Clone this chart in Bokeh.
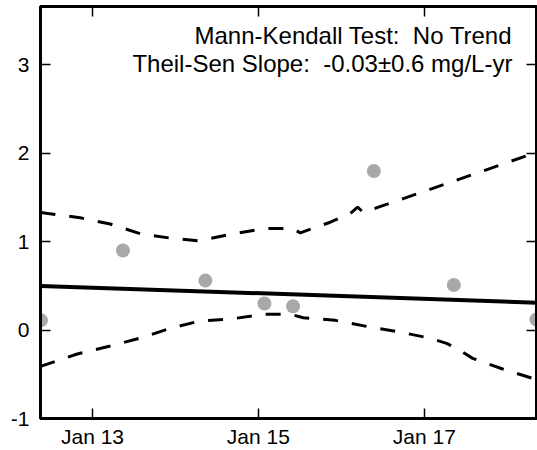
import pandas as pd
from bokeh.plotting import figure
from bokeh.models import (DatetimeAxis, LinearAxis, FixedTicker, DatetimeTickFormatter,
                          Range1d, Label, ColumnDataSource, CustomLabelingPolicy)
from bokeh.embed import file_html
from bokeh.resources import INLINE

# ---- data ----
obs_dates = ["2012-05-19", "2013-05-15", "2014-05-13", "2015-01-28",
             "2015-06-03", "2016-05-24", "2017-05-11", "2018-05-10"]
obs_values = [0.11, 0.90, 0.56, 0.30, 0.27, 1.80, 0.51, 0.12]

trend_dates = ["2012-05-17", "2018-05-10"]
trend_values = [0.50, 0.31]

upper_dates = ["2012-05-17", "2012-11-07", "2013-03-20", "2013-07-31", "2013-12-10",
               "2014-04-13", "2014-09-14", "2015-02-01", "2015-05-31", "2015-07-05",
               "2015-11-14", "2016-02-11", "2016-03-13", "2016-04-08", "2016-06-13",
               "2018-05-10"]
upper_values = [1.33, 1.27, 1.20, 1.09, 1.04,
                1.01, 1.09, 1.15, 1.15, 1.10,
                1.22, 1.32, 1.39, 1.33, 1.39,
                2.01]

lower_dates = ["2012-05-17", "2012-10-26", "2013-03-20", "2013-07-31", "2013-12-10",
               "2014-04-13", "2014-09-14", "2015-02-01", "2015-05-22", "2015-07-18",
               "2015-12-06", "2016-04-26", "2016-09-10", "2017-01-24", "2017-04-09",
               "2017-06-01", "2017-08-02", "2017-12-12", "2018-05-10"]
lower_values = [-0.41, -0.27, -0.18, -0.09, 0.02,
                0.10, 0.13, 0.18, 0.18, 0.14,
                0.11, 0.04, -0.02, -0.09, -0.15,
                -0.22, -0.32, -0.44, -0.56]

x_tick_dates = ["2013-01-01", "2015-01-01", "2017-01-01"]
y_ticks = [-1, 0, 1, 2, 3]
y_tick_labels = ["-1", "0", "1", "2", "3"]
x_limits = ["2012-05-17", "2018-05-10"]
y_limits = [-1, 3.66]
annotation_lines = ["Mann-Kendall Test:\u00a0 No Trend",
                    "Theil-Sen Slope:\u00a0 -0.03\u00b10.6 mg/L-yr"]
annotation_anchor_date = "2018-01-24"
annotation_y = [3.33, 3.02]

FONT = "Liberation Sans"


def ms(d):
    return pd.Timestamp(d).value / 1e6


def to_dt(lst):
    return pd.to_datetime(lst)


p = figure(width=537, height=450, x_axis_type="datetime",
           output_backend="svg", toolbar_location=None,
           x_range=Range1d(ms(x_limits[0]), ms(x_limits[1])),
           y_range=Range1d(y_limits[0], y_limits[1]),
           min_border_left=40, min_border_right=1, min_border_top=6,
           min_border_bottom=0)
p.grid.visible = False
p.outline_line_color = "black"
p.outline_line_width = 3
p.background_fill_color = "white"
p.border_fill_color = "white"

x_ticker = FixedTicker(ticks=[ms(d) for d in x_tick_dates])
y_ticker = FixedTicker(ticks=y_ticks)
fmt = DatetimeTickFormatter(years="%b %y", months="%b %y", days="%b %y",
                            hours="%b %y", minutes="%b %y", seconds="%b %y",
                            milliseconds="%b %y", microseconds="%b %y",
                            hourmin="%b %y", minsec="%b %y")

hide_all = CustomLabelingPolicy(code="""
    const all = [...indices]
    for (const i of all) indices.unset(i)
    return indices
""")


def style_axis(ax, show_labels):
    ax.axis_line_width = 3
    ax.axis_line_color = "black"
    ax.major_tick_in = 10
    ax.major_tick_out = 0
    ax.major_tick_line_width = 1.5
    ax.major_tick_line_color = "black"
    ax.minor_tick_line_color = None
    ax.major_label_text_font = FONT
    ax.major_label_text_color = "black"
    if show_labels:
        ax.major_label_text_font_size = "21px"
    else:
        ax.major_label_text_font_size = "0px"
        ax.major_label_policy = hide_all
        ax.major_label_standoff = 0


xb = p.xaxis[0]
xb.ticker = x_ticker
xb.formatter = fmt
style_axis(xb, True)
xb.major_label_standoff = 6
xb.major_label_text_line_height = 0.9

yl = p.yaxis[0]
yl.ticker = y_ticker
yl.major_label_overrides = {t: s for t, s in zip(y_ticks, y_tick_labels)}
style_axis(yl, True)
yl.major_label_standoff = 11

xt = DatetimeAxis(ticker=x_ticker, formatter=fmt)
style_axis(xt, False)
p.add_layout(xt, "above")

yr = LinearAxis(ticker=y_ticker)
style_axis(yr, False)
p.add_layout(yr, "right")

# confidence bands
p.line(to_dt(upper_dates), upper_values, line_color="black", line_width=3,
       line_dash="15 14")
p.line(to_dt(lower_dates), lower_values, line_color="black", line_width=3,
       line_dash="15 14")
# Theil-Sen trend
p.line(to_dt(trend_dates), trend_values, line_color="black", line_width=4)
# observations
src = ColumnDataSource(dict(x=to_dt(obs_dates), y=obs_values))
p.scatter("x", "y", source=src, size=14, fill_color="#a8a8a8",
          line_color=None)

for txt, yv in zip(annotation_lines, annotation_y):
    p.add_layout(Label(x=ms(annotation_anchor_date), y=yv, text=txt,
                       text_align="right", text_baseline="middle",
                       text_font=FONT, text_font_size="24px",
                       text_color="black"))

open("out.html", "w").write(file_html(p, INLINE))
